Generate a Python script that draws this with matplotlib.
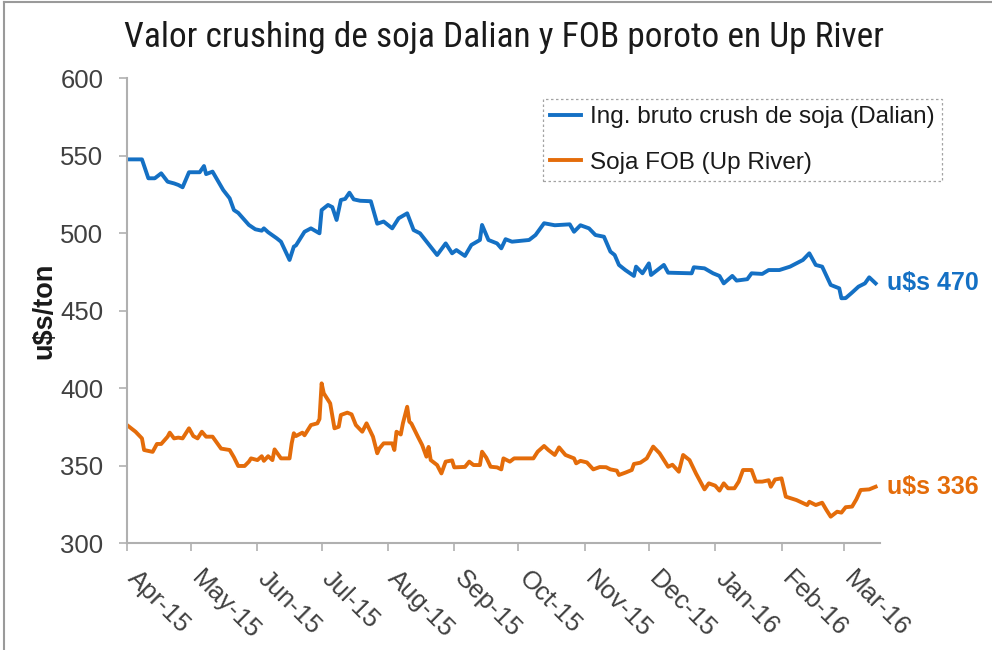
import pandas as pd
import matplotlib
matplotlib.use("Agg")
import matplotlib.pyplot as plt
import matplotlib.dates as mdates
import matplotlib.transforms as mtransforms
from matplotlib.lines import Line2D

# days counted from 1-Apr-2015, values in u$s/ton
start = pd.Timestamp("2015-04-01")

blue_day = [0, 7, 10, 13, 16, 19, 22, 24, 26, 29, 34, 36, 37, 40, 45, 48, 50, 52, 57, 60,
            63, 64, 66, 70, 72, 76, 78, 79, 83, 86, 90, 91, 94, 96, 98, 100, 102, 104, 106, 109,
            114, 117, 120, 124, 127, 131, 134, 137, 145, 149, 152, 154, 158, 161, 165, 166, 169, 173, 175, 177,
            180, 188, 191, 195, 200, 207, 209, 212, 216, 219, 223, 226, 228, 230, 233, 237, 238, 241, 244, 245,
            251, 253, 264, 265, 270, 274, 277, 279, 283, 285, 290, 292, 297, 300, 305, 310, 316, 319, 322, 325,
            329, 333, 334, 336, 339, 342, 345, 347, 350]
blue_val = [547.5, 547.5, 535.3, 535.3, 538.5, 533.1, 532.0, 531.0, 529.5, 539.2, 539.2, 543.2, 538.0, 539.6, 527.7, 522.4, 514.8, 513.0, 505.2, 502.4,
            501.5, 503.0, 500.5, 496.6, 494.4, 482.6, 491.2, 492.0, 500.8, 503.0, 499.8, 514.8, 518.1, 516.7, 508.4, 521.3, 522.0, 526.0, 521.7, 520.8,
            520.5, 506.0, 507.4, 503.0, 509.5, 512.7, 501.9, 499.8, 485.8, 493.3, 486.9, 489.0, 485.2, 492.3, 495.5, 505.2, 495.5, 493.3, 490.1, 496.0,
            494.4, 495.5, 498.7, 506.3, 505.0, 505.6, 500.8, 505.0, 503.0, 498.7, 497.6, 488.0, 485.8, 479.4, 476.1, 472.3, 478.3, 474.0, 480.4, 472.9,
            479.4, 474.4, 474.0, 477.9, 477.2, 474.0, 472.3, 467.5, 472.3, 469.3, 470.2, 474.0, 473.6, 476.1, 476.1, 478.3, 482.6, 486.9, 479.4, 478.3,
            466.5, 464.3, 457.9, 458.0, 461.6, 465.4, 467.5, 471.4, 467.5]

orange_day = [0, 4, 7, 8, 12, 14, 16, 19, 20, 22, 24, 26, 29, 31, 33, 35, 37, 40, 42, 44,
              48, 50, 52, 55, 57, 58, 61, 63, 64, 66, 68, 69, 72, 76, 77, 78, 79, 82, 83, 86,
              89, 90, 91, 92, 95, 97, 99, 100, 103, 105, 107, 110, 112, 115, 117, 118, 120, 124, 125, 126,
              128, 129, 131, 132, 133, 136, 138, 140, 141, 142, 145, 147, 149, 152, 153, 158, 160, 162, 165, 166,
              168, 170, 173, 175, 176, 179, 181, 190, 192, 195, 197, 200, 202, 205, 209, 210, 212, 215, 218, 221,
              224, 226, 229, 230, 233, 236, 237, 240, 243, 246, 249, 251, 253, 255, 258, 260, 263, 266, 270, 272,
              275, 277, 279, 281, 284, 286, 288, 292, 294, 297, 300, 301, 303, 306, 308, 313, 318, 319, 322, 325,
              327, 329, 332, 334, 336, 339, 341, 343, 347, 350]
orange_val = [376.1, 371.8, 367.5, 360.0, 358.8, 363.9, 363.9, 368.6, 371.2, 367.5, 368.0, 367.5, 374.0, 369.0, 367.5, 371.8, 368.6, 368.6, 364.7, 360.9,
              360.0, 355.3, 349.7, 349.7, 352.5, 354.6, 353.5, 356.0, 353.0, 356.0, 353.5, 360.4, 354.6, 354.6, 364.3, 370.8, 369.0, 371.2, 369.5, 376.1,
              377.2, 380.0, 403.0, 396.6, 390.1, 374.0, 375.0, 382.6, 384.1, 383.0, 376.1, 371.8, 377.2, 368.6, 357.9, 361.0, 364.3, 364.3, 360.0, 371.8,
              370.0, 377.2, 387.9, 378.3, 377.0, 368.6, 363.2, 355.7, 362.0, 353.5, 350.3, 344.9, 352.5, 353.3, 348.8, 349.1, 352.5, 350.3, 350.3, 358.9,
              355.0, 349.2, 348.8, 347.5, 354.6, 352.5, 354.6, 354.6, 358.9, 362.6, 360.0, 356.8, 361.7, 356.8, 354.6, 351.4, 353.0, 352.0, 347.5, 349.0,
              348.9, 347.5, 346.7, 343.9, 345.4, 347.1, 351.0, 351.8, 354.6, 362.2, 357.9, 353.5, 349.2, 350.5, 346.0, 356.8, 353.5, 344.9, 334.6, 338.5,
              337.0, 333.8, 338.5, 335.3, 335.3, 339.6, 347.1, 347.1, 339.6, 339.6, 340.5, 336.3, 341.0, 341.7, 329.9, 327.7, 324.5, 326.6, 324.5, 326.0,
              321.3, 317.0, 320.2, 319.6, 323.1, 323.5, 328.2, 334.2, 334.6, 336.3]

series_names = ["Ing. bruto crush de soja (Dalian)", "Soja FOB (Up River)"]
end_labels = ["u$s 470", "u$s 336"]

BLUE = "#1470c4"
ORANGE = "#e46c0a"
GREY = "#b0b0b0"
TXT = "#404040"

plt.rcParams["font.family"] = ["Liberation Sans", "DejaVu Sans"]

fig = plt.figure(figsize=(9.92, 6.5), dpi=100)
ax = fig.add_axes([0.128, 0.1646, 0.759, 0.7154])

blue_dates = start + pd.to_timedelta(blue_day, unit="D")
orange_dates = start + pd.to_timedelta(orange_day, unit="D")

ax.plot(blue_dates, blue_val, color=BLUE, lw=2.8, label=series_names[0], solid_joinstyle="round")
ax.plot(orange_dates, orange_val, color=ORANGE, lw=2.8, label=series_names[1], solid_joinstyle="round")

ax.set_ylim(300, 600)
ax.set_yticks(range(300, 601, 50))
ax.set_xlim(start, pd.Timestamp("2016-03-18"))
ax.xaxis.set_major_locator(mdates.MonthLocator())
ax.xaxis.set_major_formatter(mdates.DateFormatter("%b-%y"))

for s in ["top", "right"]:
    ax.spines[s].set_visible(False)
for s in ["left", "bottom"]:
    ax.spines[s].set_color(GREY)
    ax.spines[s].set_linewidth(1.5)
ax.tick_params(axis="both", colors=GREY, length=6, width=1.2, direction="out")
ax.tick_params(axis="y", labelsize=18.5, labelcolor=TXT, pad=11)
ax.tick_params(axis="x", labelsize=18.5, labelcolor=TXT, pad=17)
shift = mtransforms.ScaledTranslation(4 / 100, 0, fig.dpi_scale_trans)
for lab in ax.get_xticklabels():
    lab.set_rotation(-45)
    lab.set_ha("left")
    lab.set_va("center")
    lab.set_rotation_mode("anchor")
    lab.set_transform(lab.get_transform() + shift)

ax.set_ylabel("u$s/ton", fontsize=19.5, fontweight="bold", color="#1a1a1a", labelpad=2)

fig.text(0.508, 0.942, "Valor crushing de soja Dalian y FOB poroto en Up River",
         ha="center", va="center", fontsize=25.5, fontstretch="condensed",
         family=["Roboto Condensed", "Liberation Sans Narrow", "DejaVu Sans"],
         color="#1a1a1a")

# end of series value labels
ax.annotate(end_labels[0], xy=(blue_dates[-1], blue_val[-1]), xytext=(8, 0),
            textcoords="offset points", color=BLUE, fontsize=18, fontweight="bold",
            va="center", ha="left", annotation_clip=False)
ax.annotate(end_labels[1], xy=(orange_dates[-1], orange_val[-1]), xytext=(8, 0),
            textcoords="offset points", color=ORANGE, fontsize=18, fontweight="bold",
            va="center", ha="left", annotation_clip=False)

leg = ax.legend(loc="upper left", bbox_to_anchor=(543 / 992, 1 - 99 / 650),
                bbox_transform=fig.transFigure, fontsize=17.5, frameon=True,
                fancybox=False, handlelength=1.25, borderpad=0.3, labelspacing=0.97,
                handletextpad=0.4, borderaxespad=0)
leg.get_frame().set_edgecolor("#8c8c8c")
leg.get_frame().set_linestyle((0, (2, 2)))
leg.get_frame().set_linewidth(0.9)
for t in leg.get_texts():
    t.set_color("#1a1a1a")

# outer frame of the picture (top and left edges)
fig.add_artist(Line2D([0.004, 1.0], [0.997, 0.997], transform=fig.transFigure, color="#9a9a9a", lw=1.5))
fig.add_artist(Line2D([0.004, 0.004], [0.0, 0.997], transform=fig.transFigure, color="#9a9a9a", lw=1.5))

fig.savefig("out.png", dpi=100)
